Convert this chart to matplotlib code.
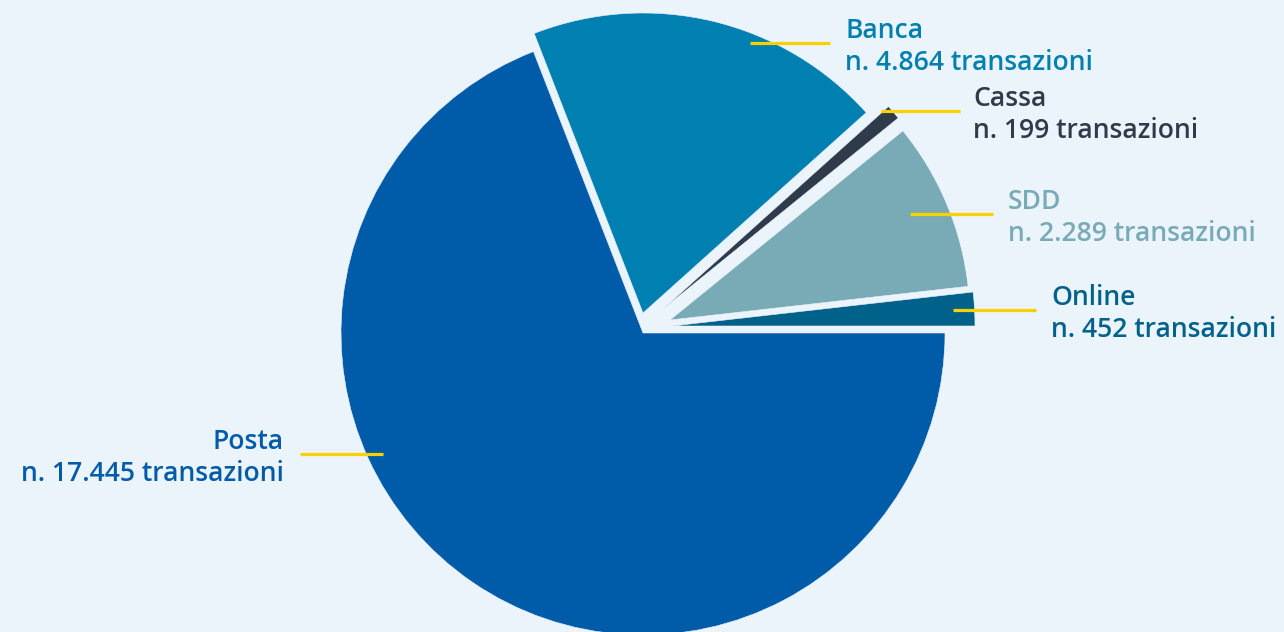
import matplotlib
matplotlib.use("Agg")
import matplotlib.pyplot as plt

# ---- data ----
categories = ["Online", "SDD", "Cassa", "Banca", "Posta"]
transactions = [452, 2289, 199, 4864, 17445]

# ---- style / layout ----
slice_colors = ["#00628A", "#78ABB6", "#2F3A4A", "#0080B1", "#005CA9"]
# per-slice displacement of the wedge tip (pixels, screen coords) and radius
slice_offset = [(29, -7), (27, -13), (20, -24), (0, -20), (0, 0)]
slice_radius = [303, 300, 303, 300, 302]
bg = "#EBF3FB"
leader_color = "#F7D100"

W, H = 1284, 632
center = (643, 333)

# leader line (x0, x1, y) and text anchor (x, ha) in pixel coordinates
leaders = {
    "Online": (953, 1036, 310, 1051, "left"),
    "SDD": (910, 993, 214, 1008, "left"),
    "Cassa": (881, 960, 111, 973, "left"),
    "Banca": (750, 830, 43, 845, "left"),
    "Posta": (300, 383, 454, 284, "right"),
}

fig = plt.figure(figsize=(W / 100, H / 100), dpi=100, facecolor=bg)
ax = fig.add_axes([0, 0, 1, 1])
ax.set_facecolor(bg)

wedges, _ = ax.pie(
    transactions,
    colors=slice_colors,
    center=center,
    radius=max(slice_radius),
    startangle=0,
    counterclock=False,  # y axis is inverted below, so this runs anticlockwise on screen
    wedgeprops=dict(edgecolor=bg, linewidth=0.4),
    frame=True,
)
for w, r, (dx, dy) in zip(wedges, slice_radius, slice_offset):
    w.set_radius(r)
    w.set_center((center[0] + dx, center[1] + dy))

ax.set_xlim(0, W)
ax.set_ylim(H, 0)
ax.set_aspect("equal")
ax.axis("off")

font = dict(family=["Open Sans", "DejaVu Sans"], fontsize=19.1, fontweight=600)

for cat, val, col in zip(categories, transactions, slice_colors):
    x0, x1, y, tx, ha = leaders[cat]
    ax.plot([x0, x1], [y, y], color=leader_color, lw=2.3, solid_capstyle="butt", zorder=5)
    num = f"{val:,}".replace(",", ".")
    ax.text(tx, y - 5, cat, color=col, ha=ha, va="baseline", **font)
    ax.text(tx, y + 27, f"n. {num} transazioni", color=col, ha=ha, va="baseline", **font)

fig.savefig("out.png", dpi=100, facecolor=bg)
